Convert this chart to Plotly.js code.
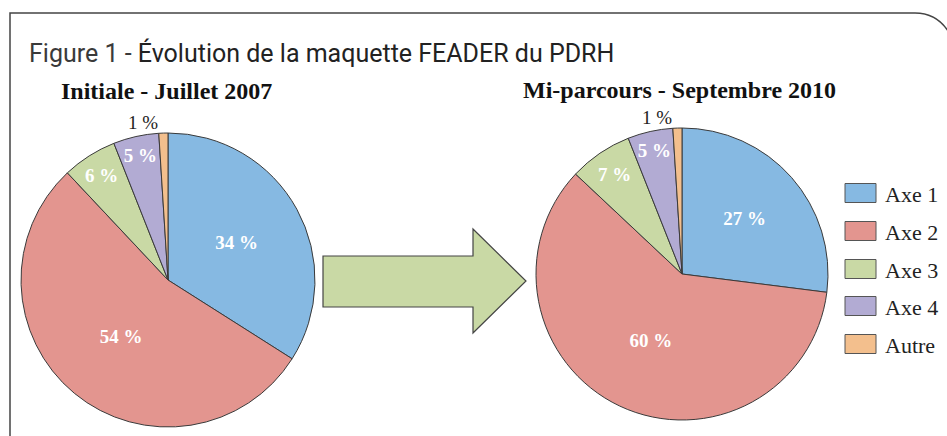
<!DOCTYPE html>
<html><head><meta charset="utf-8">
<script src="https://cdn.plot.ly/plotly-3.0.1.min.js"></script>
<style>html,body{margin:0;padding:0;background:#fff}#chart{width:947px;height:436px}</style>
</head><body><div id="chart"></div>
<script>
const categories = ['Axe 1', 'Axe 2', 'Axe 3', 'Axe 4', 'Autre'];
const initiale2007 = [34, 54, 6, 5, 1];
const miParcours2010 = [27, 60, 7, 5, 1];
const sliceColors = ['#86b9e2', '#e3958f', '#c9d9a5', '#b2abd3', '#f3bf8d'];
const pieTitles = ['Initiale - Juillet 2007', 'Mi-parcours - Septembre 2010'];
const figTitleA = 'Figure 1 - ';
const figTitleB = 'Évolution de la maquette FEADER du PDRH';

const W = 947, H = 436;
const fx = x => x / W;
const fy = y => 1 - y / H;
function pt(x, y) { return fx(x).toFixed(5) + ',' + fy(y).toFixed(5); }

function pieTrace(values, dom) {
  return {
    type: 'pie', labels: categories, values: values, sort: false,
    direction: 'clockwise', rotation: 0,
    marker: { colors: sliceColors, line: { color: '#3a3a3a', width: 1 } },
    texttemplate: '%{value} %',
    textposition: ['inside', 'inside', 'inside', 'inside', 'outside'],
    insidetextorientation: 'horizontal',
    insidetextfont: { family: 'Liberation Serif', size: 19, color: '#ffffff', weight: 'bold' },
    outsidetextfont: { family: 'Liberation Serif', size: 18.5, color: '#222222' },
    domain: dom, hoverinfo: 'none', showlegend: false
  };
}

const traces = [
  pieTrace(initiale2007, { x: [fx(21), fx(315)], y: [fy(427), fy(133)] }),
  pieTrace(miParcours2010, { x: [fx(536), fx(828)], y: [fy(420), fy(128)] })
];

const shapes = [];
// frame with rounded top-right corner
shapes.push({
  type: 'path', xref: 'paper', yref: 'paper',
  path: 'M ' + pt(10, 440) + ' L ' + pt(10, 13) + ' L ' + pt(915, 13) + ' Q ' + pt(940, 13) + ' ' + pt(952, 38),
  line: { color: '#444444', width: 1.5 }
});
// arrow
shapes.push({
  type: 'path', xref: 'paper', yref: 'paper',
  path: 'M ' + pt(323, 256) + ' L ' + pt(473, 256) + ' L ' + pt(473, 229) + ' L ' + pt(526, 281) +
        ' L ' + pt(473, 333) + ' L ' + pt(473, 307) + ' L ' + pt(323, 307) + ' Z',
  fillcolor: '#c9d9a5', line: { color: '#444444', width: 1.2 }
});

const annotations = [];
// legend
const legRowY = [193, 231, 269, 306, 344];
categories.forEach((c, i) => {
  shapes.push({
    type: 'rect', xref: 'paper', yref: 'paper',
    x0: fx(845), x1: fx(876), y0: fy(legRowY[i] + 9.5), y1: fy(legRowY[i] - 9.5),
    fillcolor: sliceColors[i], line: { color: '#555555', width: 1 }
  });
  annotations.push({
    xref: 'paper', yref: 'paper', x: fx(883), y: fy(legRowY[i] + 1), xanchor: 'left', yanchor: 'middle',
    text: c, showarrow: false, font: { family: 'Liberation Serif', size: 22, color: '#222222' }
  });
});

annotations.push({
  xref: 'paper', yref: 'paper', x: fx(27), y: fy(53), xanchor: 'left', yanchor: 'middle', showarrow: false,
  text: '<span style="color:#3a3a3a">' + figTitleA + '</span>' + figTitleB,
  font: { family: 'Roboto', size: 25, color: '#222222' }
});
annotations.push({
  xref: 'paper', yref: 'paper', x: fx(166.5), y: fy(91), xanchor: 'center', yanchor: 'middle', showarrow: false,
  text: pieTitles[0], font: { family: 'Liberation Serif', size: 24, color: '#111111', weight: 'bold' }
});
annotations.push({
  xref: 'paper', yref: 'paper', x: fx(679.5), y: fy(90), xanchor: 'center', yanchor: 'middle', showarrow: false,
  text: pieTitles[1], font: { family: 'Liberation Serif', size: 24, color: '#111111', weight: 'bold' }
});

const layout = {
  width: W, height: H, margin: { l: 0, r: 0, t: 0, b: 0 },
  paper_bgcolor: '#ffffff', plot_bgcolor: '#ffffff',
  showlegend: false, shapes: shapes, annotations: annotations,
  uniformtext: { mode: 'show', minsize: 19 }
};
Plotly.newPlot('chart', traces, layout, { staticPlot: true, displayModeBar: false });
</script></body></html>
